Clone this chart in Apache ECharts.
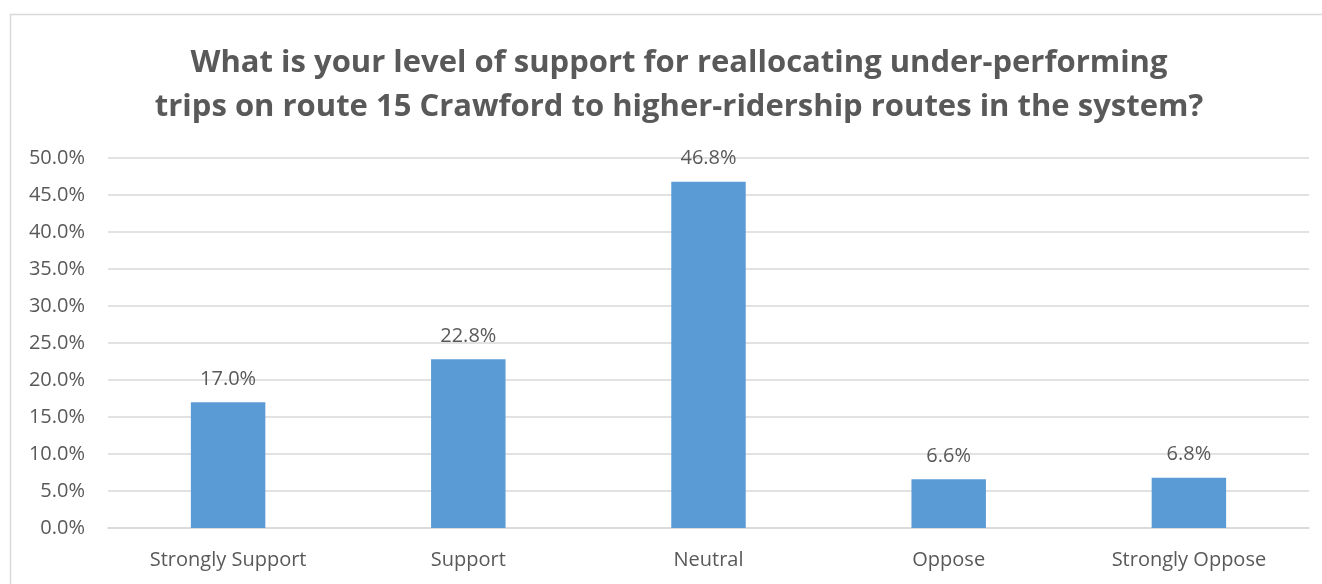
<!DOCTYPE html>
<html><head><meta charset="utf-8">
<script src="https://cdn.jsdelivr.net/npm/echarts@6/dist/echarts.min.js"></script>
<style>html,body{margin:0;padding:0;background:#fff}#c{width:1322px;height:584px}</style>
</head><body><div id="c"></div>
<script>
const categories = ['Strongly Support', 'Support', 'Neutral', 'Oppose', 'Strongly Oppose'];
const values = [17.0, 22.8, 46.8, 6.6, 6.8];
const titleText = 'What is your level of support for reallocating under-performing\ntrips on route 15 Crawford to higher-ridership routes in the system?';

const chart = echarts.init(document.getElementById('c'));
chart.setOption({
  animation: false,
  textStyle: { fontFamily: 'Open Sans' },
  graphic: [{
    type: 'rect', left: 8, top: 12,
    shape: { width: 1400, height: 700 },
    style: { fill: 'none', stroke: '#d9d9d9', lineWidth: 1.5 },
    silent: true, z: -1
  }],
  title: {
    text: titleText, left: 674, textAlign: 'center', top: 36,
    textStyle: { fontFamily: 'Open Sans', fontSize: 31, fontWeight: 'bold', color: '#595959', lineHeight: 44 }
  },
  grid: { left: 108, right: 13, top: 158, bottom: 56, containLabel: false },
  xAxis: {
    type: 'category', data: categories,
    axisLine: { show: true, lineStyle: { color: '#d9d9d9', width: 1.5 } },
    axisTick: { show: false },
    axisLabel: { color: '#595959', fontSize: 20, margin: 22 }
  },
  yAxis: {
    type: 'value', min: 0, max: 50, interval: 5,
    axisLine: { show: false }, axisTick: { show: false },
    splitLine: { lineStyle: { color: '#d9d9d9', width: 1.5 } },
    axisLabel: { color: '#595959', fontSize: 20, margin: 23, formatter: v => v.toFixed(1) + '%' }
  },
  series: [{
    type: 'bar', data: values, barWidth: '31%',
    itemStyle: { color: '#5b9bd5' },
    label: { show: true, position: 'top', distance: 13, color: '#595959', fontSize: 20, formatter: p => p.value.toFixed(1) + '%' }
  }]
});
</script></body></html>
